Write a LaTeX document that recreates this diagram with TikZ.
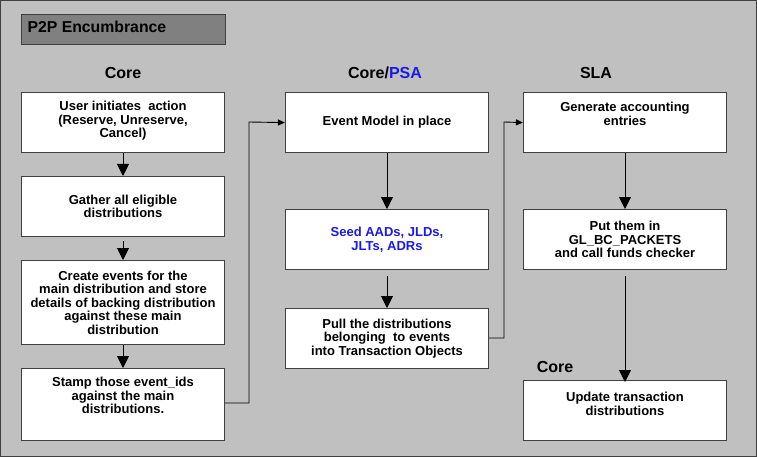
\documentclass[tikz,border=0pt]{standalone}
\usepackage{fontspec}
\setmainfont{Liberation Sans}
\usetikzlibrary{arrows.meta}
\definecolor{bg}{HTML}{C0C0C0}
\definecolor{tb}{HTML}{808080}
\definecolor{ln}{HTML}{404040}
\definecolor{psa}{HTML}{1A1AE6}
\begin{document}
\begin{tikzpicture}[x=1pt,y=-1pt,
  box/.style={draw=ln,line width=1.2pt,fill=white,minimum width=203pt,inner sep=0pt},
  txt/.style={font=\fontsize{13}{13.5}\selectfont\bfseries,align=center},
  hdr/.style={font=\fontsize{16}{17}\selectfont\bfseries},
  big/.style={-{Triangle[length=12pt,width=12pt]},line width=0.9pt},
  sml/.style={-{Triangle[length=7pt,width=6pt]},line width=0.9pt}]
\useasboundingbox (0,0) rectangle (757,457);
\draw[fill=bg,draw=ln,line width=1.2pt] (0.6,0.6) rectangle (756.4,456.4);
\node[draw=ln,line width=1pt,fill=tb,minimum width=204pt,minimum height=30pt,anchor=north west,inner sep=0pt] (title) at (21,14) {};
\node[font=\fontsize{15.8}{17}\selectfont\bfseries,anchor=west] (tt) at (24,27) {P2P Encumbrance};
\node[hdr] (h1) at (123,73) {Core};
\node[hdr] (h2) at (385,73) {Core/\textcolor{psa}{PSA}};
\node[hdr] (h3) at (596,73) {SLA};
\node[hdr] (h4) at (555,367) {Core};
% column 1
\node[box,minimum height=60pt,anchor=north] (b1) at (123,92) {};
\node[txt,anchor=north] (b1t) at (123,98) {User initiates\ \ action\\(Reserve, Unreserve,\\Cancel)};
\node[box,minimum height=60pt,anchor=north,txt] (b2) at (123,176) {Gather all eligible\\distributions};
\node[box,minimum height=84pt,anchor=north,txt] (b3) at (123,260) {Create events for the\\main distribution and store\\details of backing distribution\\against these main\\distribution};
\node[box,minimum height=72pt,anchor=north] (b4) at (123,368) {};
\node[txt,anchor=north] (b4t) at (123,374) {Stamp those event\_ids\\against the main\\distributions.};
% column 2
\node[box,minimum height=60pt,anchor=north,txt] (c1) at (387,92) {Event Model in place};
\node[box,minimum height=60pt,anchor=north,txt,text=psa] (c2) at (387,209) {Seed AADs, JLDs,\\JLTs, ADRs};
\node[box,minimum height=60pt,anchor=north,txt] (c3) at (387,308) {Pull the distributions\\belonging\ \ to events\\into Transaction Objects};
% column 3
\node[box,minimum height=60pt,anchor=north] (d1) at (625,92) {};
\node[txt,anchor=north] (d1t) at (625,99) {Generate accounting\\entries};
\node[box,minimum height=60pt,anchor=north,txt] (d2) at (625,209) {Put them in\\GL\_BC\_PACKETS\\and call funds checker};
\node[box,minimum height=60pt,anchor=north] (d3) at (625,380) {};
\node[txt,anchor=north] (d3t) at (625,389) {Update transaction\\distributions};
% arrows
\draw[big] (b1.south) -- (b2.north);
\draw[big] ([yshift=-4pt]b2.south) -- (b3.north);
\draw[big] (b3.south) -- (b4.north);
\draw[sml] (b4.east |- 0,403) -| (249,122) -- (c1.west);
\draw[big] (c1.south) -- (c2.north);
\draw[big] ([yshift=-6pt]c2.south) -- (c3.north);
\draw[sml] (c3.east |- 0,338) -| (504,122) -- (d1.west);
\draw[big] (d1.south) -- (d2.north);
\draw[big] ([yshift=-6pt]d2.south) -- ([yshift=-2pt]d3.north);
\end{tikzpicture}
\end{document}
